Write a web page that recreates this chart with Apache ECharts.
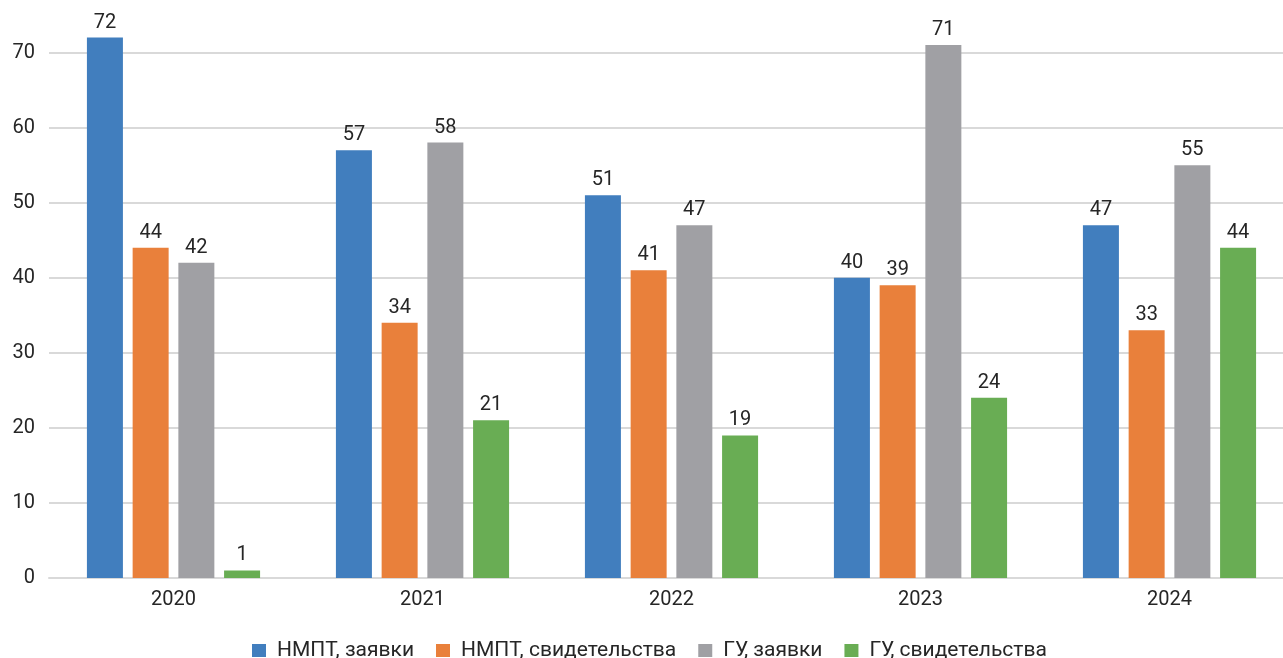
<!DOCTYPE html>
<html>
<head>
<meta charset="utf-8">
<script src="https://cdn.jsdelivr.net/npm/echarts@6/dist/echarts.min.js"></script>
<style>
  html, body { margin: 0; padding: 0; background: #fff; }
  #chart { width: 1283px; height: 658px; }
</style>
</head>
<body>
<div id="chart"></div>
<script>
// Годы
const years = ['2020', '2021', '2022', '2023', '2024'];
// Названия рядов
const seriesNames = ['НМПТ, заявки', 'НМПТ, свидетельства', 'ГУ, заявки', 'ГУ, свидетельства'];
// Значения рядов
const nmptApplications = [72, 57, 51, 40, 47];
const nmptCertificates = [44, 34, 41, 39, 33];
const guApplications = [42, 58, 47, 71, 55];
const guCertificates = [1, 21, 19, 24, 44];
// Подписи шкалы Y
const yTicks = [0, 10, 20, 30, 40, 50, 60, 70];

const colors = ['#417EBE', '#E9803B', '#A0A0A4', '#69AD54'];
const values = [nmptApplications, nmptCertificates, guApplications, guCertificates];
const font = 'Roboto, "Noto Sans", sans-serif';

const chart = echarts.init(document.getElementById('chart'));
chart.setOption({
  animation: false,
  textStyle: { fontFamily: font },
  grid: {
    left: 49, right: -11, top: 0, bottom: 80,
    containLabel: false,
    outerBoundsMode: 'none'
  },
  legend: {
    bottom: -8,
    left: 247,
    itemWidth: 14,
    itemHeight: 13,
    itemGap: 22,
    icon: 'rect',
    textStyle: { fontFamily: font, fontSize: 21, color: '#262626', padding: [0, 0, 0, 6] },
    data: seriesNames
  },
  xAxis: {
    type: 'category',
    data: years,
    axisLine: { show: true, lineStyle: { color: '#D9D9D9', width: 2 } },
    axisTick: { show: false },
    axisLabel: { fontFamily: font, fontSize: 20, color: '#262626', margin: 12 }
  },
  yAxis: {
    type: 'value',
    min: 0,
    max: 77,
    interval: 10,
    axisLine: { show: false },
    axisTick: { show: false },
    splitLine: { showMaxLine: false, lineStyle: { color: '#D9D9D9', width: 2 } },
    axisLabel: {
      fontFamily: font, fontSize: 20, color: '#262626', margin: 14,
      showMaxLabel: false,
      formatter: v => yTicks.includes(v) ? String(v) : ''
    }
  },
  series: seriesNames.map((name, i) => ({
    name,
    type: 'bar',
    data: values[i],
    barWidth: 36,
    barGap: '27%',
    barCategoryGap: '31%',
    itemStyle: { color: colors[i] },
    label: {
      show: true,
      position: 'top',
      distance: 5,
      fontFamily: font,
      fontSize: 20,
      color: '#262626'
    }
  }))
});
</script>
</body>
</html>
